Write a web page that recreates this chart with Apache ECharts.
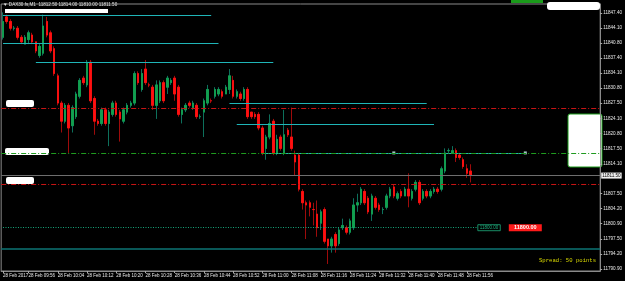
<!DOCTYPE html>
<html><head><meta charset="utf-8">
<script src="https://cdn.jsdelivr.net/npm/echarts@6/dist/echarts.min.js"></script>
<style>html,body{margin:0;padding:0;background:#000;}#c{width:625px;height:281px;}</style>
</head><body><div id="c"></div>
<script>
// ---- data ----
const dateLabel = '28 Feb';
const firstLabel = '28 Feb 2017';
const startMinute = 9 * 60 + 49;   // first bar 09:49
const slotCount = 164;             // bars + empty chart shift on the right
// [open, close, low, high]
const ohlc = [
[11842.0,11845.5,11841.5,11847.5],[11846.5,11845.5,11845.0,11847.0],[11845.5,11844.0,11843.5,11846.0],[11844.0,11844.0,11843.5,11844.5],
[11844.0,11842.0,11841.5,11844.5],[11842.0,11841.0,11840.5,11842.5],[11840.5,11842.0,11840.5,11842.5],[11841.5,11843.0,11840.5,11843.5],
[11842.5,11841.0,11840.5,11843.0],[11841.0,11839.0,11838.5,11841.0],[11838.0,11840.0,11837.5,11840.5],[11838.5,11844.5,11838.0,11847.0],
[11845.5,11842.5,11842.0,11846.5],[11843.0,11839.0,11838.5,11843.5],[11839.5,11834.0,11833.5,11840.0],[11833.5,11827.5,11827.0,11834.0],
[11827.5,11823.5,11821.0,11828.0],[11823.5,11827.0,11823.0,11827.5],[11827.0,11822.0,11816.5,11827.5],[11822.5,11826.5,11821.0,11827.0],
[11824.5,11829.5,11824.0,11830.0],[11829.0,11832.5,11828.5,11833.0],[11833.0,11832.0,11831.5,11833.5],[11831.5,11836.5,11831.0,11837.0],
[11836.5,11828.0,11827.5,11837.0],[11828.5,11823.5,11820.5,11829.0],[11823.5,11823.0,11822.5,11824.0],[11823.0,11826.0,11822.5,11826.5],
[11826.0,11823.0,11822.5,11826.5],[11823.0,11825.5,11818.0,11826.0],[11825.0,11827.5,11824.5,11828.0],[11827.5,11825.0,11824.5,11828.0],
[11825.5,11824.0,11819.0,11826.0],[11823.5,11826.0,11823.0,11826.5],[11825.5,11827.0,11825.0,11827.5],[11827.0,11827.5,11826.5,11828.0],
[11827.5,11834.0,11827.0,11834.5],[11834.0,11832.0,11831.5,11834.5],[11830.5,11834.0,11830.0,11835.0],[11835.0,11832.0,11831.5,11837.0],
[11831.5,11831.5,11831.0,11832.0],[11831.0,11827.0,11826.0,11831.5],[11827.0,11831.5,11824.0,11832.5],[11828.0,11832.0,11827.5,11832.5],
[11832.0,11828.0,11827.5,11832.5],[11831.0,11833.0,11829.5,11833.5],[11832.0,11832.5,11831.5,11833.0],[11833.0,11829.5,11828.0,11833.5],
[11831.0,11825.0,11824.5,11831.5],[11825.0,11826.0,11823.0,11826.5],[11826.0,11827.0,11825.5,11827.5],[11827.5,11827.0,11826.5,11828.0],
[11826.5,11827.5,11826.0,11828.0],[11827.0,11824.5,11824.0,11827.5],[11824.5,11824.5,11824.0,11825.0],[11825.5,11828.0,11820.0,11828.5],
[11827.5,11830.5,11827.0,11831.5],[11828.0,11828.0,11827.5,11828.5],[11829.0,11830.5,11828.5,11831.0],[11829.5,11830.5,11829.0,11831.0],
[11830.0,11829.0,11828.5,11830.5],[11829.5,11831.0,11829.5,11831.5],[11830.5,11833.5,11829.5,11835.0],[11832.5,11829.0,11828.5,11833.5],
[11829.0,11830.0,11828.5,11830.5],[11829.5,11828.5,11828.0,11830.0],[11828.5,11830.5,11828.0,11831.0],[11830.5,11824.5,11824.0,11831.0],
[11825.5,11824.5,11824.0,11825.5],[11825.0,11824.5,11824.0,11825.5],[11825.0,11822.0,11821.5,11825.5],[11822.0,11816.5,11816.0,11822.5],
[11817.5,11820.0,11815.0,11820.5],[11820.0,11823.0,11819.5,11825.0],[11823.5,11816.5,11816.0,11824.0],[11816.5,11819.5,11816.0,11820.5],
[11820.0,11817.5,11817.0,11820.5],[11816.5,11820.5,11816.0,11826.0],[11821.5,11820.5,11820.0,11822.0],[11820.0,11817.5,11817.0,11826.5],
[11816.0,11814.5,11811.5,11817.0],[11816.0,11808.5,11808.0,11816.5],[11808.0,11805.5,11804.0,11808.5],[11805.5,11805.0,11797.5,11806.0],
[11805.5,11804.5,11802.5,11806.0],[11804.0,11804.0,11800.5,11805.5],[11803.0,11800.0,11798.0,11806.0],[11801.0,11803.5,11799.5,11804.0],
[11804.0,11797.0,11796.5,11804.5],[11797.5,11796.0,11792.0,11797.5],[11796.0,11797.5,11794.5,11798.0],[11798.5,11796.0,11794.5,11799.0],
[11796.5,11799.5,11796.0,11800.0],[11800.0,11800.5,11799.5,11802.0],[11800.0,11799.0,11798.5,11800.5],[11799.0,11801.5,11798.5,11802.0],
[11800.0,11805.0,11799.5,11806.5],[11805.0,11805.5,11803.5,11807.5],[11805.5,11808.5,11805.0,11809.0],[11808.0,11805.5,11805.0,11808.5],
[11806.5,11803.5,11803.0,11807.0],[11803.0,11807.0,11801.5,11807.5],[11806.5,11804.5,11804.0,11807.0],[11805.0,11804.0,11803.5,11805.5],
[11804.0,11804.0,11803.0,11804.5],[11804.5,11807.0,11804.0,11807.5],[11807.0,11808.5,11806.5,11809.0],[11809.0,11807.0,11806.5,11809.5],
[11806.5,11807.5,11806.0,11808.0],[11808.0,11807.0,11806.5,11808.5],[11807.0,11808.5,11807.0,11809.0],[11808.5,11807.0,11804.5,11812.0],
[11806.5,11808.0,11806.0,11808.5],[11808.5,11810.0,11808.0,11810.5],[11810.0,11805.5,11805.0,11810.5],[11806.5,11808.0,11806.0,11808.5],
[11808.0,11807.0,11806.5,11808.5],[11807.0,11808.0,11806.5,11808.5],[11808.0,11808.5,11807.5,11809.0],[11808.5,11808.0,11807.5,11809.0],
[11808.5,11813.0,11808.0,11813.5],[11812.5,11816.5,11812.0,11817.5],[11817.0,11817.0,11816.5,11817.5],[11816.5,11817.0,11816.5,11818.0],
[11817.0,11815.5,11814.5,11817.5],[11816.0,11815.5,11815.0,11816.5],[11815.0,11813.5,11813.0,11815.5],[11813.0,11812.0,11811.0,11814.0],
[11812.5,11811.5,11810.0,11814.0]
];
const yTicks = [11790.90,11794.20,11797.50,11800.90,11804.20,11807.50,11814.10,11817.50,11820.80,11824.10,11827.50,11830.80,11834.10,11837.40,11840.80,11844.10,11847.40];
const yMin = 11790.45, yMax = 11849.35;
const bidPrice = 11811.50;
const pendingPrice = 11800.00;
const redLevels = [11826.40, 11809.60];
const greenLevel = 11816.50;
const tealLevel = 11795.40;
// cyan trend levels: [price, fromBar, toBar]
const cyanLevels = [[11846.90,-0.5,57],[11840.75,-0.5,58.5],[11836.55,8.5,73.5],[11827.50,61.5,115.5],[11822.90,63.5,117.5],[11816.50,71.5,142.5]];
const selectedLineEnds = [[106.9, 11816.50], [142.5, 11816.50]];
const titleText = '\u25BC DAX30.fs,M1  11812.50 11814.00 11810.00 11811.50';
const spreadText = 'Spread: 50 points';

// ---- build ----
const cats = [];
for (let i = 0; i < slotCount; i++) {
  const m = startMinute + i;
  cats.push(String(Math.floor(m / 60)).padStart(2, '0') + ':' + String(m % 60).padStart(2, '0'));
}
const bodies = ohlc.map(d => [d[0], d[1], Math.min(d[0], d[1]), Math.max(d[0], d[1])]);
const showIdx = (i) => i === 0 || (i % 8 === 7 && i < ohlc.length);
const fmt = (v) => v.toFixed(2);
const FONT = 'Liberation Sans';

const markLines = [];
redLevels.forEach(v => markLines.push({yAxis: v, lineStyle: {color: '#c81414', width: 1, type: [5, 2, 1, 2]}}));
markLines.push({yAxis: greenLevel, lineStyle: {color: '#1f9a1f', width: 1, type: [5, 2, 1, 2]}});
markLines.push({yAxis: tealLevel, lineStyle: {color: '#0d7474', width: 1.6, type: 'solid'}});
markLines.push({yAxis: bidPrice, lineStyle: {color: '#6e6e6e', width: 1.2, type: 'solid'},
  label: {show: true, position: 'end', distance: 1, formatter: fmt(bidPrice), color: '#000', backgroundColor: '#f0f0f0',
    fontSize: 4.6, fontFamily: FONT, padding: [1, 1, 0, 1]}});
markLines.push([
  {coord: [-0.5, pendingPrice], lineStyle: {color: '#17a57a', width: 1, type: [1, 1.5]},
   label: {show: true, position: 'end', distance: 0, formatter: fmt(pendingPrice), color: '#1fb07f',
     borderColor: '#1fb07f', borderWidth: 0.8, fontSize: 4.5, fontFamily: FONT, padding: [1, 2, 0, 2]}},
  {coord: [130, pendingPrice], lineStyle: {color: '#17a57a', width: 1, type: [1, 1.5]}}
]);

const chart = echarts.init(document.getElementById('c'), null, {renderer: 'canvas'});
chart.setOption({
  backgroundColor: '#000',
  animation: false,
  grid: {left: 1, right: 21, top: 4, bottom: 10, show: true, borderColor: '#8a8a8a', borderWidth: 1},
  xAxis: {
    type: 'category', data: cats, boundaryGap: true,
    axisLine: {show: true, lineStyle: {color: '#8a8a8a'}},
    axisTick: {show: true, alignWithLabel: true, interval: showIdx, length: 2, lineStyle: {color: '#aaa'}},
    axisLabel: {show: true, interval: showIdx, color: '#e8e8e8', fontSize: 4.5, fontFamily: FONT, align: 'left', margin: 2, hideOverlap: false,
      formatter: (v, i) => i === 0 ? firstLabel : dateLabel + ' ' + v},
    splitLine: {show: false}
  },
  yAxis: {
    type: 'value', position: 'right', min: yMin, max: yMax, scale: true,
    axisLine: {show: true, lineStyle: {color: '#8a8a8a'}},
    axisTick: {show: true, customValues: yTicks, length: 2, lineStyle: {color: '#aaa'}},
    axisLabel: {show: true, customValues: yTicks, formatter: fmt, color: '#e8e8e8', fontSize: 4.6, fontFamily: FONT, margin: 3},
    splitLine: {show: false}
  },
  series: [{
    // wicks (bar colours)
    type: 'candlestick',
    data: ohlc,
    barWidth: 2,
    itemStyle: {color: '#0f7d66', color0: '#b00c0c', borderColor: '#0f7d66', borderColor0: '#b00c0c', borderWidth: 0.9},
    markLine: {silent: true, symbol: 'none', animation: false, label: {show: false}, data: markLines},
    markPoint: {silent: true, animation: false, data: [
      {coord: [142.5, pendingPrice], symbol: 'rect', symbolSize: [33, 7], itemStyle: {color: '#ff1a1a'},
       label: {show: true, position: 'inside', formatter: fmt(pendingPrice), color: '#fff', fontSize: 5.5, fontWeight: 'bold', fontFamily: FONT}}
    ]}
  }, {
    // candle bodies
    type: 'candlestick',
    data: bodies,
    barWidth: 2,
    z: 2.5,
    itemStyle: {color: '#12a04e', color0: '#ff1010', borderColor: '#12a04e', borderColor0: '#ff1010', borderWidth: 0.8}
  }, {
    type: 'lines',
    coordinateSystem: 'cartesian2d',
    silent: true,
    z: 3,
    symbol: 'none',
    lineStyle: {color: '#1fb5b8', width: 1.2, opacity: 1, curveness: 0},
    data: cyanLevels.map(c => ({coords: [[c[1], c[0]], [c[2], c[0]]]}))
  }, {
    type: 'scatter',
    silent: true,
    z: 4,
    symbol: 'rect',
    symbolSize: 3,
    itemStyle: {color: '#c8f2f2'},
    data: selectedLineEnds
  }],
  graphic: [
    {type: 'text', left: 3, top: 2, style: {text: titleText, fill: '#e0e0e0', font: '4.6px "Liberation Sans"'}},
    {type: 'rect', shape: {x: 5, y: 9, width: 103, height: 4}, style: {fill: '#fff'}},
    {type: 'rect', shape: {x: 511, y: 0, width: 32, height: 3}, style: {fill: '#1a9a1a'}},
    {type: 'rect', shape: {x: 547, y: 2, width: 53, height: 8, r: 3}, style: {fill: '#fff'}},
    {type: 'rect', shape: {x: 6, y: 100, width: 28, height: 7, r: 2}, style: {fill: '#fff'}},
    {type: 'rect', shape: {x: 5, y: 148, width: 44, height: 7, r: 2}, style: {fill: '#fff'}},
    {type: 'rect', shape: {x: 6, y: 177, width: 28, height: 7, r: 2}, style: {fill: '#fff'}},
    {type: 'rect', shape: {x: 568, y: 114, width: 34, height: 53, r: 2}, style: {fill: '#fff', stroke: '#1a9a1a', lineWidth: 1}},
    {type: 'text', left: 539, top: 258, style: {text: spreadText, fill: '#d8d800', font: '5.6px "Liberation Mono"'}}
  ]
});
</script></body></html>
